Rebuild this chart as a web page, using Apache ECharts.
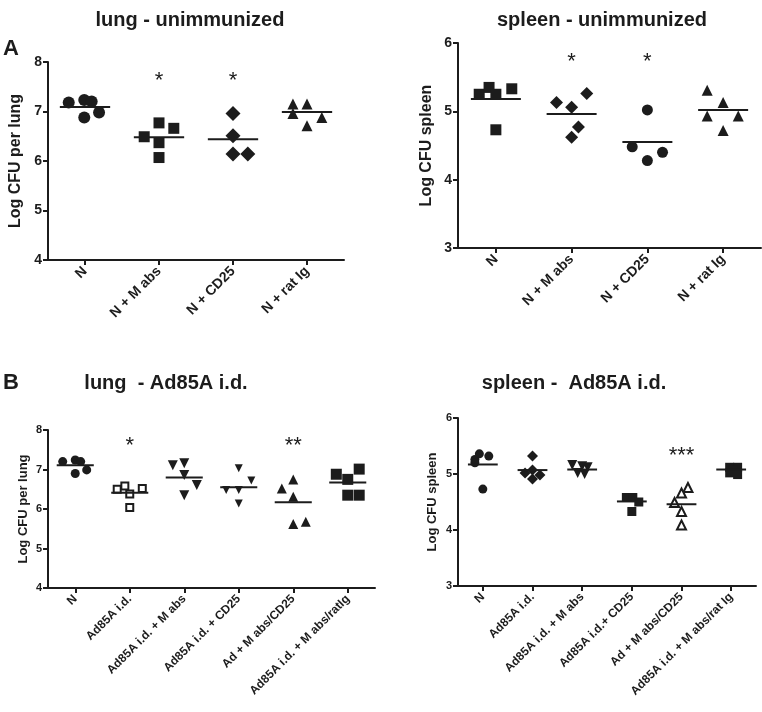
<!DOCTYPE html>
<html>
<head>
<meta charset="utf-8">
<script src="https://cdn.jsdelivr.net/npm/echarts@6.0.0/dist/echarts.min.js"></script>
<style>
  html, body { margin: 0; padding: 0; background: #fff; }
  #chart { width: 762px; height: 712px; }
</style>
</head>
<body>
<div id="chart"></div>
<script>
// categories
const catsA = ['N', 'N + M abs', 'N + CD25', 'N + rat Ig'];
const catsLungB = ['N', 'Ad85A i.d.', 'Ad85A i.d. + M abs', 'Ad85A i.d. + CD25', 'Ad + M abs/CD25', 'Ad85A i.d. + M abs/ratIg'];
const catsSpleenB = ['N', 'Ad85A i.d.', 'Ad85A i.d. + M abs', 'Ad85A i.d.+ CD25', 'Ad + M abs/CD25', 'Ad85A i.d. + M abs/rat Ig'];

// points per group: [jitter, log CFU]
const lungA = [
  [[-0.22, 7.18], [-0.01, 7.23], [0.09, 7.20], [-0.01, 6.88], [0.19, 6.98]],
  [[0, 6.77], [0.2, 6.66], [-0.2, 6.49], [0, 6.37], [0, 6.07]],
  [[0, 6.96], [0, 6.51], [0, 6.14], [0.2, 6.14]],
  [[-0.19, 7.15], [0, 7.15], [-0.19, 6.96], [0.2, 6.88], [0, 6.71]]
];
const lungAMeans = [7.09, 6.48, 6.44, 6.99];
const lungAStars = [[1, 7.72, '*'], [2, 7.72, '*']];

const spleenA = [
  [[-0.22, 5.25], [-0.09, 5.35], [0, 5.25], [0.21, 5.33], [0, 4.73]],
  [[-0.2, 5.13], [0, 5.06], [0.2, 5.26], [0.09, 4.77], [0, 4.62]],
  [[0, 5.02], [-0.2, 4.48], [0.2, 4.40], [0, 4.28]],
  [[-0.21, 5.31], [0, 5.13], [-0.21, 4.93], [0.2, 4.93], [0, 4.72]]
];
const spleenAMeans = [5.18, 4.96, 4.55, 5.02];
const spleenAStars = [[1, 5.8, '*'], [2, 5.8, '*']];

const lungB = [
  [[-0.23, 7.20], [0, 7.24], [0.1, 7.20], [0, 6.90], [0.21, 6.99]],
  [[-0.23, 6.50], [-0.09, 6.58], [0, 6.38], [0.23, 6.52], [0, 6.04]],
  [[-0.21, 7.11], [0, 7.16], [0, 6.86], [0.23, 6.61], [0, 6.35]],
  [[0, 7.03], [-0.23, 6.48], [0, 6.48], [0.23, 6.72], [0, 6.14]],
  [[0, 6.75], [-0.21, 6.52], [0, 6.31], [0, 5.62], [0.23, 5.68]],
  [[-0.21, 6.88], [0.21, 7.01], [0, 6.75], [0, 6.35], [0.21, 6.35]]
];
const lungBMeans = [7.11, 6.41, 6.80, 6.55, 6.17, 6.67];
const lungBStars = [[1, 7.72, '*'], [4, 7.72, '**']];

const spleenB = [
  [[-0.16, 5.26], [-0.07, 5.36], [0.12, 5.32], [0, 4.73], [-0.16, 5.20]],
  [[0, 5.32], [-0.15, 5.02], [0, 5.07], [0.15, 4.98], [0, 4.91]],
  [[-0.2, 5.16], [0, 5.14], [0.11, 5.12], [-0.09, 5.02], [0.05, 5.00]],
  [[-0.11, 4.58], [0.02, 4.58], [0.14, 4.50], [0, 4.33]],
  [[0.13, 4.76], [0, 4.66], [-0.14, 4.49], [0, 4.33], [0, 4.09]],
  [[-0.03, 5.12], [0.13, 5.12], [0.03, 5.07], [0.13, 4.99], [-0.03, 5.02]]
];
const spleenBMeans = [5.17, 5.07, 5.08, 4.51, 4.46, 5.08];
const spleenBStars = [[4, 5.41, '***']];

const INK = '#1c1c1c';
const FONT = 'Liberation Sans, Arial, sans-serif';

// marker styles per group: [symbol, size, rotate, open]
const panels = [
  {
    title: 'lung - unimmunized', tx: 190, ty: 10, grid: { left: 48, top: 62, width: 296, height: 198 },
    cats: catsA, groups: lungA, means: lungAMeans, stars: lungAStars, yMin: 4, yMax: 8,
    yName: 'Log CFU per lung', nameSize: 16, nameGap: 24, tickSize: 14, labelSize: 14, half: 0.34,
    marks: [['circle', 12, 0, false], ['rect', 11, 0, false], ['diamond', 15, 0, false], ['triangle', 11, 0, false]]
  },
  {
    title: 'spleen - unimmunized', tx: 602, ty: 10, grid: { left: 458, top: 43, width: 303, height: 205 },
    cats: catsA, groups: spleenA, means: spleenAMeans, stars: spleenAStars, yMin: 3, yMax: 6,
    yName: 'Log CFU spleen', nameSize: 16, nameGap: 23, tickSize: 14, labelSize: 14, half: 0.33,
    marks: [['rect', 11, 0, false], ['diamond', 13, 0, false], ['circle', 11, 0, false], ['triangle', 11, 0, false]]
  },
  {
    title: 'lung  - Ad85A i.d.', tx: 166, ty: 373, grid: { left: 48, top: 430, width: 327, height: 158 },
    cats: catsLungB, groups: lungB, means: lungBMeans, stars: lungBStars, yMin: 4, yMax: 8,
    yName: 'Log CFU per lung', nameSize: 13, nameGap: 18, tickSize: 11, labelSize: 12, half: 0.34,
    marks: [['circle', 9, 0, false], ['rect', 7, 0, true], ['triangle', 10, 180, false],
            ['triangle', 8, 180, false], ['triangle', 10, 0, false], ['rect', 11, 0, false]]
  },
  {
    title: 'spleen -  Ad85A i.d.', tx: 574, ty: 373, grid: { left: 458, top: 418, width: 298, height: 168 },
    cats: catsSpleenB, groups: spleenB, means: spleenBMeans, stars: spleenBStars, yMin: 3, yMax: 6,
    yName: 'Log CFU spleen', nameSize: 13, nameGap: 19, tickSize: 11, labelSize: 12, half: 0.3,
    marks: [['circle', 9, 0, false], ['diamond', 11, 0, false], ['triangle', 10, 180, false],
            ['rect', 9, 0, false], ['triangle', 9, 0, true], ['rect', 9, 0, false]]
  }
];

const option = {
  animation: false,
  backgroundColor: '#fff',
  textStyle: { fontFamily: FONT },
  title: [
    { text: 'A', left: 3, top: 38, padding: 0, textStyle: { fontSize: 22, fontWeight: 'bold', color: INK, fontFamily: FONT } },
    { text: 'B', left: 3, top: 372, padding: 0, textStyle: { fontSize: 22, fontWeight: 'bold', color: INK, fontFamily: FONT } }
  ],
  grid: [], xAxis: [], yAxis: [], series: []
};

panels.forEach((p, k) => {
  option.title.push({
    text: p.title, left: p.tx, top: p.ty, textAlign: 'center', padding: 0,
    textStyle: { fontSize: 20, fontWeight: 'bold', color: INK, fontFamily: FONT }
  });
  option.grid.push(p.grid);
  option.xAxis.push({
    type: 'category', gridIndex: k, data: p.cats, boundaryGap: true,
    axisLine: { show: true, onZero: false, lineStyle: { color: INK, width: 2 } },
    axisTick: { show: true, alignWithLabel: true, length: 5, lineStyle: { color: INK, width: 2 } },
    axisLabel: { interval: 0, rotate: 45, margin: 9, fontSize: p.labelSize, fontWeight: 'bold', color: INK, fontFamily: FONT },
    splitLine: { show: false }
  });
  option.xAxis.push({
    type: 'value', gridIndex: k, min: -0.5, max: p.cats.length - 0.5, show: false,
    axisLine: { onZero: false }
  });
  option.yAxis.push({
    type: 'value', gridIndex: k, min: p.yMin, max: p.yMax, interval: 1,
    name: p.yName, nameLocation: 'middle', nameRotate: 90, nameGap: p.nameGap,
    nameTextStyle: { fontSize: p.nameSize, fontWeight: 'bold', color: INK, fontFamily: FONT },
    axisLine: { show: true, onZero: false, lineStyle: { color: INK, width: 2 } },
    axisTick: { show: true, inside: false, length: 5, lineStyle: { color: INK, width: 2 } },
    axisLabel: { margin: 6, fontSize: p.tickSize, fontWeight: 'bold', color: INK, fontFamily: FONT },
    splitLine: { show: false }
  });

  p.groups.forEach((pts, i) => {
    const [sym, size, rot, open] = p.marks[i];
    option.series.push({
      type: 'scatter', xAxisIndex: 2 * k + 1, yAxisIndex: k,
      symbol: sym, symbolSize: size, symbolRotate: rot,
      itemStyle: open
        ? { color: '#fff', borderColor: INK, borderWidth: 2, opacity: 1 }
        : { color: INK, borderWidth: 0, opacity: 1 },
      data: pts.map(([o, v]) => [i + o, v]),
      z: 3
    });
    option.series.push({
      type: 'line', xAxisIndex: 2 * k + 1, yAxisIndex: k,
      symbol: 'none', lineStyle: { color: INK, width: 2, opacity: 1 },
      data: [[i - p.half, p.means[i]], [i + p.half, p.means[i]]],
      z: 4
    });
  });

  option.series.push({
    type: 'scatter', xAxisIndex: 2 * k + 1, yAxisIndex: k,
    symbol: 'circle', symbolSize: 1, itemStyle: { color: 'transparent', opacity: 1 },
    label: {
      show: true, position: 'inside', formatter: (d) => d.data[2],
      fontSize: 22, color: INK, opacity: 1, fontFamily: FONT, offset: [0, 5]
    },
    data: p.stars
  });
});

const chart = echarts.init(document.getElementById('chart'));
chart.setOption(option);
window.addEventListener('resize', () => chart.resize());
</script>
</body>
</html>
